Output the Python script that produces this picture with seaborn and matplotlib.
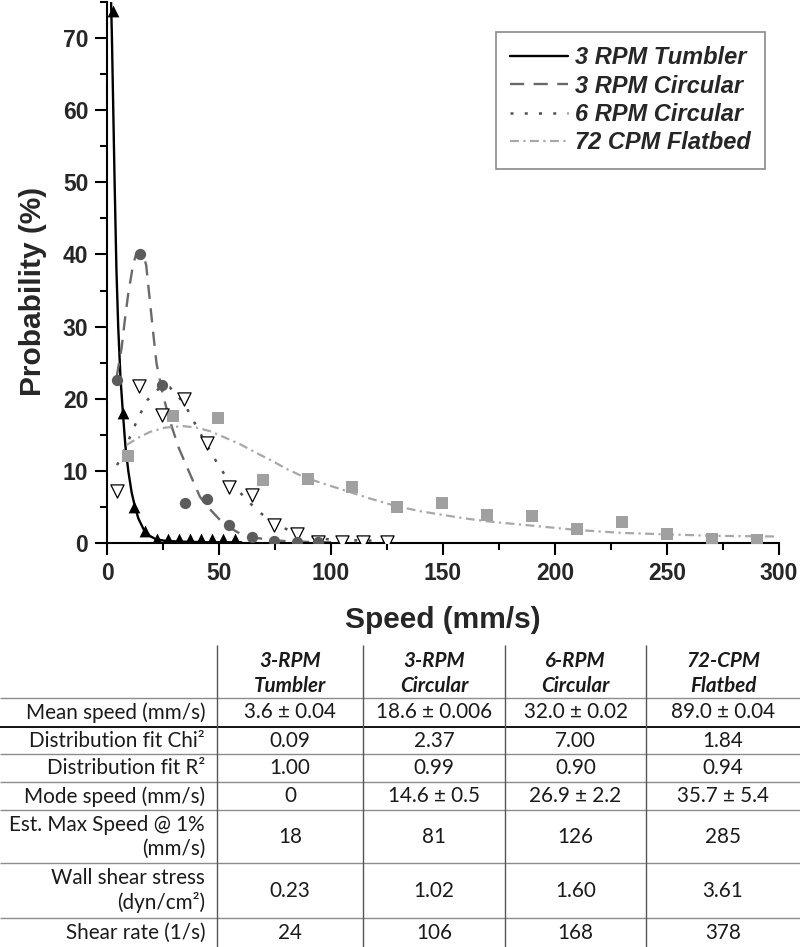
import numpy as np
import seaborn as sns
import matplotlib.pyplot as plt
from matplotlib.ticker import MultipleLocator

# measured points (speed mm/s, probability %)
tumbler_x = [2.7, 7.2, 12.1, 16.8, 22.1, 27.1, 32.0, 37.0, 42.0, 47.0, 52.0, 57.0]
tumbler_y = [73.7, 18.0, 5.0, 1.7, 0.6, 0.6, 0.6, 0.5, 0.5, 0.5, 0.5, 0.5]

circ3_x = [4.3, 14.7, 24.4, 34.8, 44.8, 54.5, 64.9, 74.5, 84.7, 94.3]
circ3_y = [22.6, 40.1, 21.9, 5.6, 6.1, 2.5, 0.8, 0.3, 0.2, 0.2]

circ6_x = [4.6, 14.4, 24.4, 34.5, 44.8, 54.6, 64.6, 74.6, 84.7, 94.3, 104.8, 114.4, 124.9]
circ6_y = [7.2, 21.7, 17.7, 20.0, 13.8, 7.7, 6.6, 2.5, 1.3, 0.2, 0.1, 0.1, 0.1]

flat_x = [9.5, 29.3, 49.7, 69.8, 89.9, 109.2, 129.3, 149.7, 169.8, 189.9, 210, 229.8, 249.9, 270, 290]
flat_y = [12.1, 17.6, 17.3, 8.8, 8.9, 7.8, 5.0, 5.6, 3.9, 3.7, 1.9, 2.9, 1.3, 0.5, 0.4]

# fitted curves
tumbler_fit_x = [1.6, 2.2, 2.8, 3.4, 4.2, 5.0, 6.0, 7.1, 8.2, 9.5, 11, 12.5, 14, 16.5, 19, 22, 26, 32, 45, 60]
tumbler_fit_y = [78, 70, 60, 50, 38, 30, 23, 18, 13.5, 10, 7, 5, 3.4, 1.8, 1.0, 0.5, 0.3, 0.2, 0.1, 0.1]

circ3_fit_x = [4.3, 6.5, 8, 9.5, 11.7, 13, 14.6, 16.2, 17.5, 18.8, 20.5, 22.1, 25, 28, 32, 35.6,
               41.5, 45, 50.4, 55, 59.4, 65, 71, 80, 90, 100]
circ3_fit_y = [23, 27, 31, 34.6, 38.7, 40, 40.5, 40, 38.5, 34.6, 29.5, 24.9, 20.5, 17, 13.2, 10.6,
               6.4, 5.0, 3.2, 2.1, 1.3, 0.8, 0.5, 0.25, 0.15, 0.1]

circ6_fit_x = [4.5, 8, 11.7, 15, 18, 21.5, 25, 28, 31, 34.5, 38.5, 44.5, 49.7, 54.2, 60.9, 66.8,
               72, 77.2, 85, 95, 105, 125]
circ6_fit_y = [10.8, 13, 15.8, 18, 19.8, 21, 21.8, 21.6, 20.6, 19.3, 17, 13.6, 10.8, 8.7, 6.5, 4.6,
               3.3, 2.3, 1.3, 0.6, 0.4, 0.3]

flat_fit_x = [8.8, 14, 19.2, 26, 34, 40, 46, 52, 59.4, 66, 74.2, 80, 86.2, 93, 101, 109, 117, 129.3,
              140, 149.7, 160, 169.8, 189.9, 210, 229.8, 249.9, 270, 299]
flat_fit_y = [13.6, 14.6, 15.4, 16.0, 16.2, 16.0, 15.5, 14.7, 13.7, 12.6, 11.3, 10.3, 9.4, 8.6, 7.8,
              7.0, 6.2, 5.1, 4.4, 3.9, 3.4, 3.0, 2.4, 1.8, 1.4, 1.2, 1.0, 0.9]

series_names = ['3 RPM Tumbler', '3 RPM Circular', '6 RPM Circular', '72 CPM Flatbed']

# table
col_names = ['3-RPM\nTumbler', '3-RPM\nCircular', '6-RPM\nCircular', '72-CPM\nFlatbed']
row_names = ['Mean speed (mm/s)', 'Distribution fit Chi²', 'Distribution fit R²',
             'Mode speed (mm/s)', 'Est. Max Speed @ 1%\n(mm/s)', 'Wall shear stress\n(dyn/cm²)',
             'Shear rate (1/s)']
tumbler_col = ['3.6 ± 0.04', '0.09', '1.00', '0', '18', '0.23', '24']
circ3_col = ['18.6 ± 0.006', '2.37', '0.99', '14.6 ± 0.5', '81', '1.02', '106']
circ6_col = ['32.0 ± 0.02', '7.00', '0.90', '26.9 ± 2.2', '126', '1.60', '168']
flat_col = ['89.0 ± 0.04', '1.84', '0.94', '35.7 ± 5.4', '285', '3.61', '378']

sns.set_style('ticks')
plt.rcParams['font.family'] = ['Liberation Sans', 'DejaVu Sans']

fig = plt.figure(figsize=(8, 9.47), dpi=100)
ax = fig.add_axes([107 / 800, 404 / 947, 672 / 800, 541 / 947])

# fit lines
sns.lineplot(x=tumbler_fit_x, y=tumbler_fit_y, ax=ax, color='black', lw=1.7,
             linestyle='-', estimator=None)
sns.lineplot(x=circ3_fit_x, y=circ3_fit_y, ax=ax, color='#6a6a6a', lw=1.7,
             linestyle=(0, (6, 4)), estimator=None)
sns.lineplot(x=circ6_fit_x, y=circ6_fit_y, ax=ax, color='#505050', lw=1.8,
             linestyle=(0, (1.2, 4.5)), estimator=None)
sns.lineplot(x=flat_fit_x, y=flat_fit_y, ax=ax, color='#a8a8a8', lw=1.6,
             linestyle=(0, (4, 2, 1, 2)), estimator=None)

# data points
sns.scatterplot(x=flat_x, y=flat_y, ax=ax, marker='s', s=68, color='#a0a0a0',
                edgecolor='#a0a0a0', linewidth=0, zorder=3)
sns.scatterplot(x=circ6_x, y=circ6_y, ax=ax, marker='v', s=90, color='white',
                edgecolor='black', linewidth=0.9, zorder=3)
sns.scatterplot(x=circ3_x, y=circ3_y, ax=ax, marker='o', s=66, color='#5c5c5c',
                edgecolor='#5c5c5c', linewidth=0, zorder=4)
sns.scatterplot(x=tumbler_x, y=tumbler_y, ax=ax, marker='^', s=72, color='black',
                edgecolor='black', linewidth=0, zorder=5)

ax.set_xlim(0, 300)
ax.set_ylim(0, 75)
ax.set_yticks(range(0, 71, 10))
ax.xaxis.set_major_locator(MultipleLocator(50))
ax.xaxis.set_minor_locator(MultipleLocator(25))
ax.yaxis.set_minor_locator(MultipleLocator(5))
sns.despine(ax=ax)
for sp in ['left', 'bottom']:
    ax.spines[sp].set_linewidth(1.5)
    ax.spines[sp].set_color('black')
ax.tick_params(which='major', length=8.5, width=1.5, labelsize=16.5, pad=5, color='black')
ax.tick_params(which='minor', length=5, width=1.5, color='black')
for lab in ax.get_xticklabels() + ax.get_yticklabels():
    lab.set_fontweight('bold')

ax.set_xlabel('Speed (mm/s)', fontsize=21.5, fontweight='bold', labelpad=15)
ax.set_ylabel('Probability (%)', fontsize=21.5, fontweight='bold')
ax.yaxis.set_label_coords(-0.09, 0.465)

leg = ax.legend(handles=ax.lines[:4], labels=series_names, loc='upper right',
                bbox_to_anchor=(0.979, 0.9445), borderaxespad=0, frameon=True,
                fancybox=False, framealpha=1, handlelength=2.45, handletextpad=0.3,
                labelspacing=0.23, borderpad=0.6,
                prop={'family': 'Liberation Sans', 'weight': 'bold', 'style': 'italic', 'size': 17})
leg.get_frame().set_edgecolor('#8a8a8a')
leg.get_frame().set_linewidth(1.2)

# table below the chart
tax = fig.add_axes([0, 0, 1, 308 / 947])
tax.set_xlim(0, 800)
tax.set_ylim(11, 0)
tax.axis('off')

row_units = [2.1, 1.03, 0.99, 1.0, 0.99, 1.9, 1.96, 1.03]
edges = np.concatenate([[0], np.cumsum(row_units)])
col_edges = [0, 217, 363, 505, 646, 800]
centers_x = [(col_edges[i] + col_edges[i + 1]) / 2 for i in range(1, 5)]
centers_y = [(edges[i] + edges[i + 1]) / 2 for i in range(len(row_units))]

tfont = ['Lato', 'DejaVu Sans']
tsize = 14.9
for i, e in enumerate(edges[1:-1]):
    if i == 1:
        tax.hlines(e, 0, 800, color='black', lw=1.3)
    else:
        tax.hlines(e, 0, 800, color='#8c8c8c', lw=1.0)
tax.vlines(col_edges[1:5], 0.2, 11, color='#555555', lw=1.0)

for cx, name in zip(centers_x, col_names):
    tax.text(cx, 1.23, name, ha='center', va='center', family=tfont,
             fontsize=tsize, fontweight='bold', style='italic', color='#1a1a1a', linespacing=1.3)

columns = [tumbler_col, circ3_col, circ6_col, flat_col]
for r, name in enumerate(row_names):
    cy = centers_y[r + 1]
    tax.text(205, cy, name, ha='right', va='center', family=tfont, fontsize=tsize,
             color='#1a1a1a', linespacing=1.25)
    for cx, col in zip(centers_x, columns):
        tax.text(cx, cy, col[r], ha='center', va='center', family=tfont, fontsize=tsize,
                 color='#1a1a1a')

fig.savefig('out.png', dpi=100)
